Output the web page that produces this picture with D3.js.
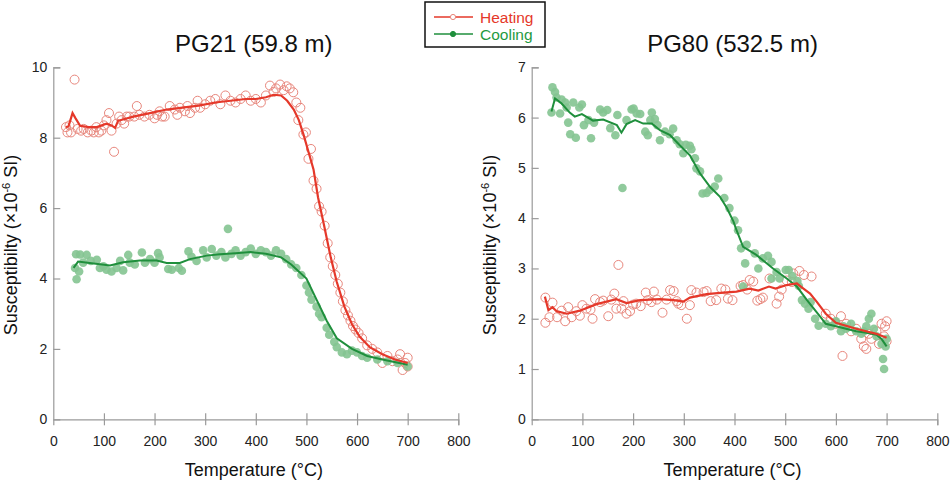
<!DOCTYPE html>
<html>
<head>
<meta charset="utf-8">
<script src="https://cdn.jsdelivr.net/npm/d3@7"></script>
<style>
  body { margin: 0; background: #fff; }
  svg text { font-family: "Liberation Sans", Arial, sans-serif; }
</style>
</head>
<body>
<div id="chart"></div>
<script>
// ---- data: [temperature °C, susceptibility ×10^-6 SI] ----
var xTicks = [0, 100, 200, 300, 400, 500, 600, 700, 800];
var leftYTicks = [0, 2, 4, 6, 8, 10];
var rightYTicks = [0, 1, 2, 3, 4, 5, 6, 7];

var pg21HeatPts = [[25,8.3],[28,8.15],[32,8.35],[35,8.15],[42,9.65],[48,8.25],[55,8.2],[60,8.25],[68,8.15],[75,8.2],[80,8.15],[85,8.3],[90,8.15],[95,8.2],[100,8.35],[105,8.5],[110,8.7],[115,8.2],[120,7.6],[125,8.4],[130,8.6],[135,8.5],[140,8.4],[145,8.6],[150,8.6],[160,8.6],[165,8.9],[170,8.65],[180,8.6],[190,8.65],[200,8.55],[205,8.65],[210,8.75],[215,8.6],[220,8.6],[230,8.9],[240,8.8],[245,8.65],[250,8.85],[260,8.75],[265,8.9],[270,8.7],[280,8.85],[285,9.05],[290,8.85],[300,8.95],[310,9.05],[320,9.1],[330,8.95],[340,9.2],[350,9.05],[360,9.0],[370,9.1],[380,9.2],[390,9.05],[400,9.1],[410,9.0],[420,9.2],[428,9.48],[435,9.3],[440,9.4],[448,9.51],[455,9.35],[461,9.46],[467,9.4],[474,9.29],[480,9.0],[484,8.5],[488,8.85],[494,8.09],[499,8.15],[504,7.4],[509,7.68],[514,6.78],[520,6.55],[525,6.05],[530,5.9],[536,5.5],[542,5.0],[547,4.6],[552,4.35],[557,4.1],[562,3.85],[567,3.6],[572,3.35],[577,3.1],[582,2.95],[587,2.8],[592,2.65],[597,2.55],[603,2.45],[610,2.3],[620,2.1],[630,2.0],[640,1.9],[650,1.6],[660,1.8],[670,1.65],[680,1.7],[685,1.85],[690,1.4],[695,1.6],[700,1.75],[700,1.5]];
var pg21HeatLine = [[25,8.3],[30,8.32],[38,8.7],[44,8.55],[53,8.34],[70,8.3],[86,8.3],[105,8.4],[115,8.35],[122,8.28],[128,8.48],[158,8.6],[191,8.7],[224,8.8],[263,8.87],[287,8.91],[320,9.0],[350,9.05],[380,9.1],[400,9.1],[420,9.15],[435,9.22],[450,9.2],[462,9.05],[475,8.8],[485,8.5],[494,8.1],[504,7.6],[514,7.1],[523,6.3],[535,5.5],[548,4.6],[560,3.9],[575,3.2],[590,2.7],[605,2.35],[625,2.05],[650,1.85],[675,1.7],[700,1.6]];
var pg21CoolPts = [[43,4.3],[45,4.69],[46,3.98],[51,4.2],[53,4.68],[59,4.45],[66,4.67],[74,4.5],[86,4.53],[92,4.3],[99,4.35],[105,4.25],[115,4.2],[125,4.3],[132,4.5],[138,4.23],[148,4.67],[151,4.45],[161,4.4],[175,4.74],[181,4.45],[191,4.55],[200,4.45],[207,4.72],[210,4.6],[227,4.27],[234,4.25],[248,4.3],[254,4.22],[267,4.77],[273,4.62],[283,4.5],[296,4.8],[303,4.6],[313,4.84],[322,4.65],[332,4.75],[340,4.6],[345,5.41],[352,4.7],[360,4.8],[370,4.65],[380,4.75],[390,4.85],[400,4.7],[410,4.8],[420,4.75],[430,4.65],[440,4.8],[450,4.7],[460,4.55],[470,4.4],[480,4.3],[490,4.1],[500,3.8],[505,3.6],[510,3.4],[520,3.2],[525,3.0],[530,2.9],[540,2.6],[545,2.4],[555,2.2],[560,2.05],[570,1.9],[580,1.85],[590,1.95],[600,1.9],[610,1.8],[620,1.75],[640,1.7],[660,1.65],[680,1.6],[700,1.5]];
var pg21CoolLine = [[40,4.3],[49,4.48],[72,4.44],[112,4.37],[138,4.46],[171,4.51],[204,4.51],[224,4.44],[250,4.44],[270,4.55],[303,4.65],[329,4.69],[360,4.72],[390,4.75],[420,4.7],[450,4.6],[470,4.4],[500,4.0],[520,3.4],[540,2.8],[560,2.3],[590,2.0],[620,1.8],[650,1.7],[700,1.55]];

var pg80HeatPts = [[27,2.42],[27,1.92],[35,2.03],[41,2.32],[50,2.03],[59,2.16],[66,1.95],[72,2.23],[79,2.03],[88,2.15],[95,2.06],[100,2.27],[108,2.2],[116,2.18],[120,2.0],[125,2.39],[135,2.33],[141,2.36],[151,2.05],[157,2.38],[163,2.5],[167,2.2],[171,3.07],[177,2.2],[181,2.35],[187,2.1],[194,2.15],[200,2.28],[206,2.3],[215,2.25],[225,2.52],[229,2.37],[236,2.33],[241,2.54],[247,2.38],[258,2.12],[266,2.38],[273,2.57],[280,2.55],[286,2.35],[289,2.3],[295,2.27],[306,2.0],[312,2.27],[315,2.57],[325,2.52],[339,2.53],[345,2.55],[353,2.35],[364,2.37],[374,2.6],[382,2.58],[387,2.4],[396,2.37],[412,2.65],[417,2.67],[425,2.58],[430,2.77],[437,2.74],[445,2.36],[451,2.39],[456,2.42],[469,2.8],[483,2.3],[488,2.44],[493,2.58],[503,2.76],[513,2.73],[516,2.9],[528,2.95],[537,2.87],[552,2.84],[580,2.1],[590,2.0],[600,1.9],[610,2.05],[613,1.26],[620,1.9],[630,1.75],[640,1.8],[650,1.6],[655,1.45],[660,1.4],[665,1.7],[670,1.6],[680,1.75],[685,1.5],[690,1.9],[695,1.65],[697,1.85],[700,1.95],[700,1.55]];
var pg80HeatLine = [[26,2.44],[33,2.17],[41,2.23],[49,2.15],[69,2.1],[95,2.16],[128,2.29],[167,2.39],[187,2.31],[214,2.37],[253,2.39],[280,2.37],[299,2.34],[312,2.42],[345,2.49],[378,2.52],[404,2.54],[430,2.6],[447,2.56],[468,2.64],[481,2.6],[503,2.67],[523,2.7],[536,2.6],[549,2.5],[562,2.34],[580,2.1],[600,1.92],[640,1.8],[680,1.7],[700,1.62]];
var pg80CoolPts = [[39,6.1],[41,6.6],[46,6.51],[49,6.4],[56,6.08],[59,6.36],[66,6.3],[69,6.2],[72,5.9],[76,5.67],[82,6.3],[87,5.6],[94,6.2],[99,6.26],[103,5.85],[112,5.95],[117,5.59],[123,5.9],[135,6.16],[141,6.1],[149,6.15],[155,5.79],[165,5.65],[169,6.05],[179,4.6],[187,5.95],[197,6.16],[201,6.18],[207,6.08],[214,6.07],[224,5.72],[229,5.65],[234,5.95],[237,6.1],[243,5.97],[248,5.85],[253,5.55],[263,5.72],[272,5.67],[279,5.78],[286,5.55],[292,5.47],[299,5.29],[304,5.46],[312,5.44],[315,5.37],[322,5.19],[325,4.99],[332,4.93],[337,4.49],[345,4.5],[351,4.56],[361,4.63],[368,4.79],[380,4.4],[390,4.2],[400,3.95],[407,3.76],[413,3.4],[417,2.64],[421,3.1],[424,3.47],[440,3.3],[447,3.0],[456,3.2],[466,3.25],[473,3.13],[473,2.8],[483,2.93],[489,2.8],[501,2.97],[507,2.97],[514,2.85],[524,2.75],[527,2.65],[533,2.37],[539,2.3],[546,2.2],[550,2.33],[559,2.0],[566,1.86],[580,1.9],[590,1.85],[600,1.95],[610,1.75],[615,1.85],[620,1.8],[630,1.9],[640,1.75],[650,1.7],[655,1.75],[660,1.85],[665,2.0],[670,2.1],[675,1.8],[680,1.65],[690,1.5],[693,1.2],[695,1.0],[698,1.45],[700,1.6]];
var pg80CoolLine = [[39,6.12],[46,6.38],[59,6.28],[75,6.1],[85,6.02],[99,6.07],[121,5.94],[141,5.96],[168,5.85],[177,5.7],[187,5.87],[204,5.95],[220,5.88],[237,5.88],[253,5.75],[273,5.65],[292,5.45],[312,5.25],[332,4.89],[352,4.62],[371,4.43],[385,4.2],[398,3.93],[404,3.76],[417,3.43],[443,3.27],[476,3.0],[503,2.8],[523,2.64],[543,2.37],[569,2.04],[580,1.9],[600,1.85],[620,1.8],[640,1.75],[660,1.72],[680,1.68],[690,1.6],[700,1.45]];

var panels = [
  { title: "PG21 (59.8 m)", x0: 53.3, x1: 458.3, yMax: 10, yTicks: leftYTicks,
    heatPts: pg21HeatPts, heatLine: pg21HeatLine, coolPts: pg21CoolPts, coolLine: pg21CoolLine },
  { title: "PG80 (532.5 m)", x0: 531.7, x1: 937.3, yMax: 7, yTicks: rightYTicks,
    heatPts: pg80HeatPts, heatLine: pg80HeatLine, coolPts: pg80CoolPts, coolLine: pg80CoolLine }
];

var attrs = {
  width: 951, height: 481,
  plotTop: 67.3, plotBottom: 419.3,
  axisColor: '#9a9a9a',
  heatLineColor: '#e5382a',
  heatPtColor: '#e8867c',
  coolLineColor: '#1f8f3c',
  coolPtColor: '#84c491'
};

var svg = d3.select('#chart').append('svg')
  .attr('width', attrs.width)
  .attr('height', attrs.height);

panels.forEach(function (p) {
  var x = d3.scaleLinear().domain([0, 800]).range([p.x0, p.x1]);
  var y = d3.scaleLinear().domain([0, p.yMax]).range([attrs.plotBottom, attrs.plotTop]);
  var g = svg.append('g');

  // axes
  var xAxis = g.append('g')
    .attr('transform', 'translate(0,' + attrs.plotBottom + ')')
    .call(d3.axisBottom(x).tickValues(xTicks).tickFormat(d3.format('d')).tickSizeOuter(0).tickSize(6).tickPadding(11));
  xAxis.selectAll('.tick line').attr('y1', -6).attr('y2', 6);
  xAxis.selectAll('.tick').filter(function (d) { return d === 0; }).select('line').remove();

  var yAxis = g.append('g')
    .attr('transform', 'translate(' + p.x0 + ',0)')
    .call(d3.axisLeft(y).tickValues(p.yTicks).tickFormat(d3.format('d')).tickSizeOuter(0).tickSize(-7).tickPadding(6));
  yAxis.selectAll('.tick').filter(function (d) { return d === 0; }).select('line').remove();

  [xAxis, yAxis].forEach(function (a) {
    a.select('.domain').attr('stroke', attrs.axisColor).attr('stroke-width', 1.2);
    a.selectAll('.tick line').attr('stroke', attrs.axisColor).attr('stroke-width', 1.2);
    a.selectAll('.tick text').attr('fill', '#222').style('font-size', '14px');
  });
  yAxis.selectAll('.tick text').attr('x', -6);

  // titles
  var cx = (p.x0 + p.x1) / 2 - 2;
  g.append('text').attr('x', cx).attr('y', 52).attr('text-anchor', 'middle')
    .style('font-size', '24px').attr('fill', '#111').text(p.title);
  g.append('text').attr('x', cx).attr('y', 476).attr('text-anchor', 'middle')
    .style('font-size', '18px').attr('fill', '#111').text('Temperature (°C)');
  var yl = g.append('text')
    .attr('transform', 'translate(' + (p.x0 - 36) + ',' + 245 + ') rotate(-90)')
    .attr('text-anchor', 'middle').style('font-size', '18px').attr('fill', '#111');
  yl.append('tspan').text('Susceptibilty (×10');
  yl.append('tspan').attr('dy', -7).style('font-size', '11px').text('-6');
  yl.append('tspan').attr('dy', 7).text(' SI)');

  var line = d3.line().x(function (d) { return x(d[0]); }).y(function (d) { return y(d[1]); });

  // heating points (open circles)
  g.append('g').selectAll('circle').data(p.heatPts).enter().append('circle')
    .attr('cx', function (d) { return x(d[0]); })
    .attr('cy', function (d) { return y(d[1]); })
    .attr('r', 4.5).attr('fill', 'none')
    .attr('stroke', attrs.heatPtColor).attr('stroke-width', 1);

  // cooling points (filled)
  g.append('g').selectAll('circle').data(p.coolPts).enter().append('circle')
    .attr('cx', function (d) { return x(d[0]); })
    .attr('cy', function (d) { return y(d[1]); })
    .attr('r', 4.3).attr('fill', attrs.coolPtColor).attr('fill-opacity', 0.9);

  g.append('path').datum(p.coolLine).attr('d', line).attr('fill', 'none')
    .attr('stroke', attrs.coolLineColor).attr('stroke-width', 2);
  g.append('path').datum(p.heatLine).attr('d', line).attr('fill', 'none')
    .attr('stroke', attrs.heatLineColor).attr('stroke-width', 2.2);
});

// legend
var lg = svg.append('g');
lg.append('rect').attr('x', 425).attr('y', 2).attr('width', 120).attr('height', 45)
  .attr('fill', '#fff').attr('stroke', '#111').attr('stroke-width', 1.5);
[{ label: 'Heating', y: 17, line: attrs.heatLineColor, txt: '#e5382a', open: true },
 { label: 'Cooling', y: 34, line: attrs.coolLineColor, txt: '#1f9a3f', open: false }].forEach(function (d) {
  lg.append('line').attr('x1', 434).attr('x2', 473).attr('y1', d.y).attr('y2', d.y)
    .attr('stroke', d.line).attr('stroke-width', 1.5);
  lg.append('circle').attr('cx', 453).attr('cy', d.y).attr('r', 2.6)
    .attr('fill', d.open ? '#fff' : attrs.coolLineColor)
    .attr('stroke', d.open ? attrs.heatPtColor : attrs.coolLineColor).attr('stroke-width', 1);
  lg.append('text').attr('x', 480).attr('y', d.y + 6).style('font-size', '15.5px')
    .attr('fill', d.txt).text(d.label);
});
</script>
</body>
</html>
